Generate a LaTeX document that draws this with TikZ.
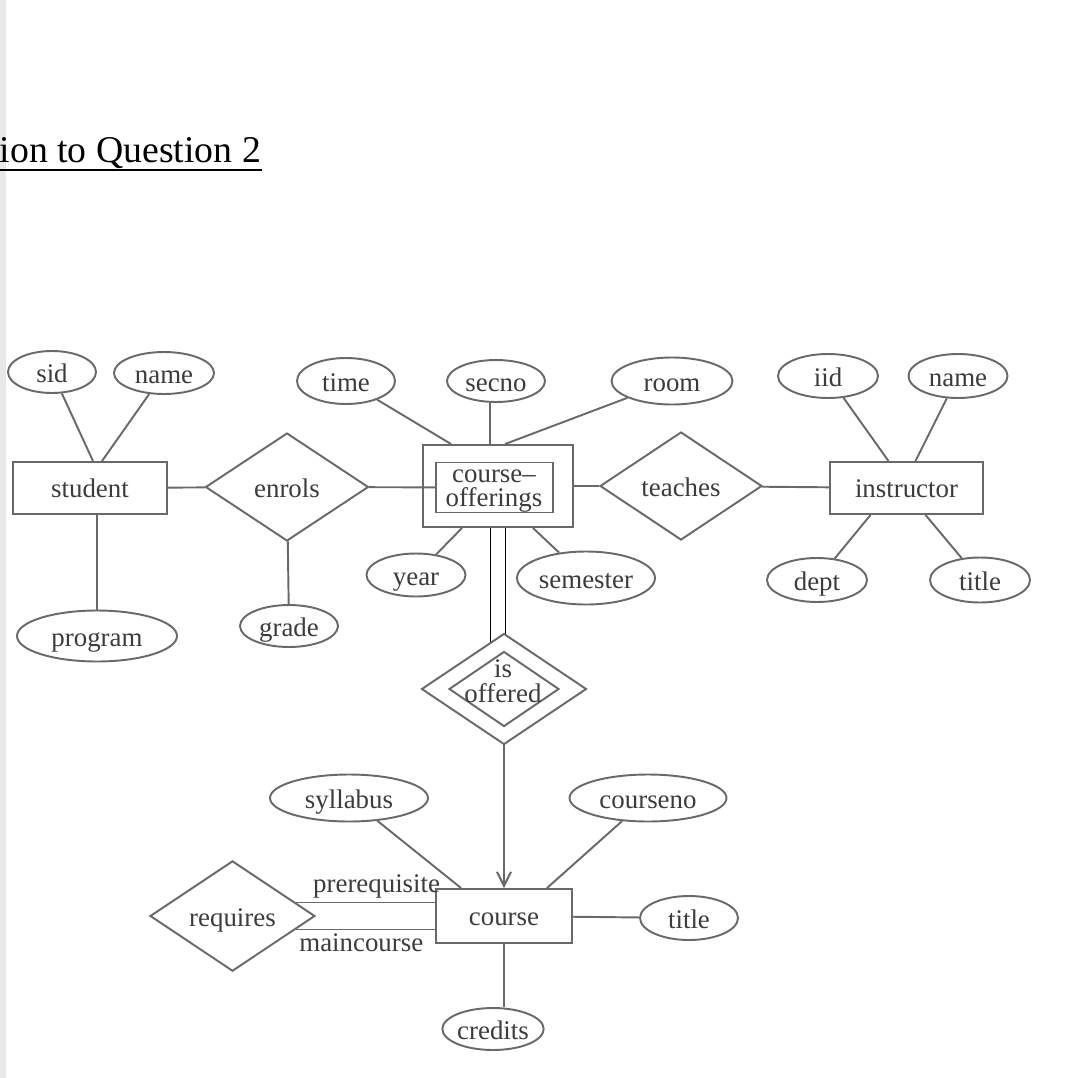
\documentclass[tikz,border=0pt]{standalone}
\usepackage{fontspec}
\setmainfont{Liberation Serif}
\usetikzlibrary{shapes.geometric,arrows.meta,backgrounds}
\definecolor{erline}{RGB}{105,105,105}
\definecolor{ertext}{RGB}{60,60,60}
\begin{document}
\begin{tikzpicture}[x=0.02cm, y=-0.02cm, line width=1.1pt, color=erline,
    every node/.style={text=ertext, inner sep=0pt, font=\fontsize{15.3}{14}\selectfont},
    attr/.style 2 args={draw, ellipse, fill=white, minimum width=#1cm, minimum height=#2cm, text height=12.5pt, text depth=1pt},
    entity/.style 2 args={draw, rectangle, fill=white, minimum width=#1cm, minimum height=#2cm, text height=12pt, text depth=1.5pt},
    rel/.style 2 args={draw, diamond, fill=white, minimum width=#1cm, minimum height=#2cm, text height=12.5pt, text depth=1pt}]
            \useasboundingbox (0,0) rectangle (1072,1078);
            \fill[gray!18] (0,0) rectangle (6,1078);
            \node[anchor=base east, text=black, font=\fontsize{21.5}{24}\selectfont] (heading) at (262,162) {tion to Question 2};
            \draw[black, line width=1.1pt] ([yshift=-4.5pt]heading.base west) -- ([yshift=-4.5pt]heading.base east);

            % student side
            \node[attr={1.76}{0.84}] (sid) at (52,372) {sid};
            \node[attr={2.0}{0.84}] (sname) at (164,373) {name};
            \node[entity={3.08}{1.04}] (student) at (90,488) {student};
            \node[attr={3.2}{1.02}] (program) at (97,636) {program};
            \node[rel={3.26}{2.16}] (enrols) at (287,487) {enrols};
            \node[attr={1.96}{0.84}] (grade) at (289,626) {grade};

            % course offerings
            \node[attr={1.96}{0.92}] (time) at (346,381) {time};
            \node[attr={1.96}{0.84}] (secno) at (496,381) {secno};
            \node[attr={2.42}{0.94}] (room) at (672,381) {room};
            \node[entity={3.0}{1.64}] (co) at (498,486) {};
            \node[entity={2.34}{1.0}] (coin) at (494.5,487.5) {};
            \node[align=center] (cotext) at (494,491) {course–\\offerings};
            \node[attr={1.98}{0.86}] (year) at (416,575) {year};
            \node[attr={2.76}{1.06}] (semester) at (586,578) {semester};

            % instructor side
            \node[rel={3.24}{2.16}] (teaches) at (681,486) {teaches};
            \node[entity={3.06}{1.04}] (instructor) at (906.5,488) {instructor};
            \node[attr={2.0}{0.88}] (iid) at (828,376) {iid};
            \node[attr={1.98}{0.88}] (iname) at (958,376) {name};
            \node[attr={2.0}{0.88}] (dept) at (817,580) {dept};
            \node[attr={2.0}{0.9}] (ititle) at (980,580) {title};

            % is offered / course
            \node[rel={3.3}{2.22}] (offered) at (504,689) {};
            \node[rel={2.2}{1.5}] (offin) at (504,689) {};
            \node[align=center] (offtext) at (503,681) {is\\offered};
            \node[attr={3.16}{0.94}] (syllabus) at (349,798) {syllabus};
            \node[attr={3.14}{0.94}] (courseno) at (648,798) {courseno};
            \node[entity={2.72}{1.08}] (course) at (504,916) {course};
            \node[attr={1.96}{0.88}] (ctitle) at (689,918) {title};
            \node[attr={1.96}{0.84}] (credits) at (493,1029) {credits};
            \node[rel={3.3}{2.16}] (requires) at (232.5,916) {requires};

            \begin{scope}[on background layer]
              \draw[double=white, double distance=0.28cm] (co) -- (co |- offered);
            \end{scope}

            \draw (sid) -- ([xshift=0.06cm]student.north);
            \draw (sname) -- ([xshift=0.24cm]student.north);
            \draw (student.south -| program) -- (program);
            \draw (student) -- (enrols);
            \draw (enrols) -- (grade);
            \draw (enrols) -- (coin);
            \draw (time) -- ([xshift=0.58cm]co.north west);
            \draw ([xshift=-0.12cm]secno.south) -- ([xshift=-0.16cm]co.north);
            \draw (room) -- ([xshift=0.14cm]co.north);
            \draw (year) -- ([xshift=0.8cm]co.south west);
            \draw (semester) -- ([xshift=-0.82cm]co.south east);
            \draw (co) -- (teaches);
            \draw (teaches) -- (instructor);
            \draw (iid) -- ([xshift=-0.36cm]instructor.north);
            \draw (iname) -- ([xshift=0.18cm]instructor.north);
            \draw (dept) -- ([xshift=-0.72cm]instructor.south);
            \draw (ititle) -- ([xshift=0.38cm]instructor.south);
            \draw[-{Straight Barb[length=8pt, width=8pt]}] (offered) -- (course);
            \draw (syllabus) -- ([xshift=0.52cm]course.north west);
            \draw (courseno) -- ([xshift=-0.52cm]course.north east);
            \draw (course) -- (ctitle);
            \draw (course.south) -- (credits.north -| course.south);
            \draw (requires.12) -- (requires.12 -| course.west) node[pos=0.58, above=2pt] {prerequisite};
            \draw (requires.-12) -- (requires.-12 -| course.west) node[pos=0.47, below=2pt] {maincourse};
          \end{tikzpicture}
\end{document}
